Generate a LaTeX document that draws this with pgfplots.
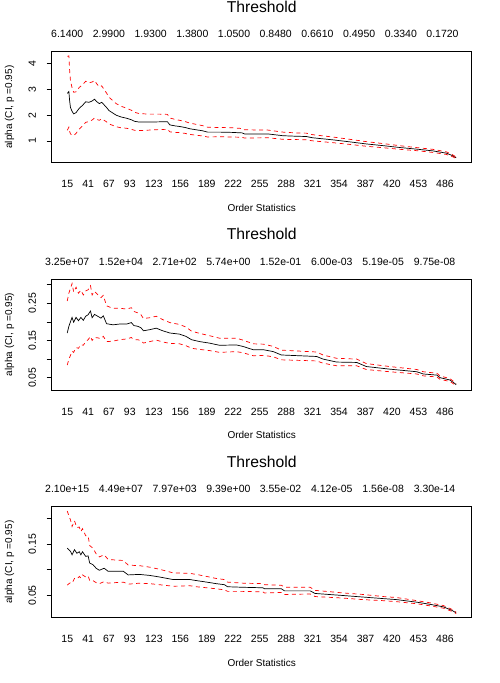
\documentclass[border=0pt]{standalone}
\usepackage{fontspec}
\setmainfont{Liberation Sans}
\usepackage{pgfplots}
\usepackage{pgfplotstable}
\pgfplotsset{compat=1.18}

\pgfplotstableread{
k v u l
15 2.85 4.29 1.41
16 2.88 4.29 1.47
17 2.92 4.31 1.53
18 2.55 3.73 1.37
19 2.30 3.34 1.27
21 2.15 3.07 1.23
23 2.05 2.89 1.21
26 2.10 2.91 1.29
30 2.27 3.08 1.46
34 2.38 3.18 1.58
38 2.52 3.32 1.72
42 2.50 3.26 1.75
46 2.55 3.29 1.81
49 2.62 3.35 1.89
52 2.52 3.21 1.83
55 2.45 3.10 1.80
58 2.50 3.14 1.86
61 2.40 3.00 1.80
64 2.30 2.86 1.74
67 2.18 2.70 1.66
72 2.08 2.56 1.60
76 2.00 2.45 1.55
82 1.93 2.35 1.51
89 1.88 2.27 1.49
95 1.82 2.19 1.45
99 1.76 2.11 1.41
105 1.73 2.06 1.40
118 1.73 2.04 1.42
130 1.74 2.04 1.44
140 1.74 2.03 1.45
143 1.62 1.89 1.35
150 1.58 1.83 1.33
155 1.56 1.80 1.32
162 1.52 1.75 1.29
168 1.47 1.69 1.25
176 1.43 1.64 1.22
184 1.39 1.59 1.19
190 1.34 1.53 1.15
205 1.34 1.52 1.16
220 1.33 1.51 1.15
233 1.31 1.48 1.14
236 1.27 1.43 1.11
265 1.27 1.42 1.12
284 1.20 1.34 1.06
300 1.18 1.31 1.05
313 1.17 1.30 1.04
321 1.12 1.24 1.00
346 1.04 1.15 0.93
365 0.97 1.07 0.87
388 0.88 0.97 0.79
410 0.81 0.89 0.73
430 0.74 0.81 0.67
450 0.68 0.74 0.62
471 0.61 0.67 0.55
488 0.52 0.57 0.47
495 0.43 0.47 0.39
500 0.34 0.37 0.31
}\hillA

\pgfplotstableread{
k v u l
15 0.170 0.256 0.084
17 0.188 0.277 0.099
19 0.200 0.290 0.110
21 0.212 0.303 0.121
23 0.199 0.280 0.118
26 0.212 0.293 0.131
29 0.203 0.277 0.129
32 0.212 0.285 0.139
35 0.204 0.272 0.137
38 0.215 0.283 0.147
41 0.219 0.286 0.152
44 0.229 0.297 0.161
46 0.211 0.272 0.150
49 0.220 0.282 0.158
53 0.215 0.273 0.157
57 0.210 0.265 0.155
60 0.216 0.271 0.161
64 0.195 0.243 0.147
72 0.192 0.236 0.148
80 0.194 0.237 0.152
89 0.194 0.234 0.154
95 0.198 0.238 0.158
98 0.190 0.228 0.152
103 0.188 0.224 0.152
107 0.184 0.219 0.149
110 0.176 0.209 0.143
118 0.179 0.211 0.147
126 0.183 0.215 0.151
134 0.176 0.206 0.146
143 0.170 0.198 0.142
155 0.167 0.193 0.141
163 0.161 0.186 0.136
170 0.152 0.175 0.129
180 0.147 0.169 0.126
192 0.143 0.163 0.123
205 0.137 0.156 0.118
226 0.138 0.156 0.120
234 0.134 0.151 0.117
247 0.125 0.141 0.109
260 0.125 0.140 0.110
272 0.120 0.134 0.106
282 0.111 0.124 0.098
326 0.107 0.119 0.095
334 0.100 0.111 0.089
351 0.092 0.102 0.082
376 0.091 0.100 0.082
388 0.080 0.088 0.072
417 0.073 0.080 0.066
451 0.066 0.072 0.060
459 0.060 0.066 0.055
476 0.057 0.062 0.052
480 0.050 0.0545 0.0455
492 0.044 0.0479 0.0401
498 0.035 0.0381 0.0319
500 0.031 0.0337 0.0283
}\hillB

\pgfplotstableread{
k v u l
15 0.142 0.214 0.070
17 0.139 0.205 0.073
19 0.136 0.197 0.075
21 0.129 0.184 0.074
24 0.139 0.195 0.083
27 0.132 0.182 0.082
30 0.135 0.183 0.087
32 0.129 0.174 0.084
34 0.135 0.180 0.090
38 0.126 0.166 0.086
41 0.127 0.166 0.088
43 0.113 0.147 0.079
47 0.110 0.142 0.079
51 0.103 0.131 0.075
55 0.099 0.125 0.073
61 0.103 0.129 0.077
66 0.097 0.120 0.074
75 0.097 0.119 0.075
85 0.097 0.118 0.076
91 0.090 0.109 0.072
105 0.091 0.108 0.074
118 0.089 0.105 0.073
130 0.086 0.101 0.071
147 0.081 0.094 0.068
168 0.081 0.093 0.069
176 0.079 0.091 0.067
189 0.076 0.087 0.065
201 0.073 0.083 0.063
211 0.071 0.081 0.061
215 0.067 0.076 0.058
234 0.066 0.074 0.058
259 0.065 0.073 0.057
261 0.063 0.071 0.055
282 0.063 0.070 0.056
286 0.059 0.066 0.052
318 0.059 0.066 0.053
324 0.054 0.060 0.048
359 0.050 0.055 0.045
384 0.047 0.052 0.042
409 0.044 0.048 0.040
426 0.042 0.046 0.038
451 0.037 0.040 0.034
467 0.033 0.036 0.030
484 0.028 0.0305 0.0255
495 0.021 0.0229 0.0191
500 0.0163 0.0177 0.0149
}\hillC

\newcommand{\tickfont}{\fontsize{10.5}{12}\selectfont}
\newcommand{\labfont}{\fontsize{10}{12}\selectfont}
\newcommand{\titfont}{\fontsize{15.7}{18}\selectfont}

\pgfplotsset{
  hillbase/.style={
    scale only axis, width=420pt, height=111pt,
    xmin=-4.4, xmax=519.4,
    axis line style={line width=0.8pt, black},
    xtick={15,41,67,93,123,156,189,222,255,288,321,354,387,420,453,486},
    xticklabels={15,41,67,93,123,156,189,222,255,288,321,354,387,420,453,486},
    xtick style={draw=none},
    ytick pos=left, tick align=outside, major tick length=5pt,
    ytick style={line width=0.6pt, black},
    xticklabel style={anchor=center, font=\tickfont},
    xticklabel shift=16.5pt,
    yticklabel style={rotate=90, anchor=center, font=\tickfont},
    yticklabel shift=14.4pt,
    xlabel={Order Statistics},
    xlabel style={at={(axis description cs:0.5,-0.405)}, anchor=center, font=\labfont},
    ylabel={alpha (CI, p =0.95)},
    ylabel style={at={(axis description cs:-0.1005,0.5)}, anchor=center, font=\labfont},
    title={Threshold},
    title style={at={(axis description cs:0.5,1.351)}, anchor=center, font=\titfont},
  },
  topbase/.style={
    scale only axis, width=420pt, height=111pt,
    xmin=-4.4, xmax=519.4,
    axis x line*=top, hide y axis,
    axis line style={draw=none},
    xtick style={draw=none},
    xticklabel pos=upper,
    xticklabel style={anchor=center, font=\tickfont},
    xticklabel shift=17.5pt,
  },
  est/.style={black, line width=0.7pt},
  ci/.style={red, line width=0.7pt, dash pattern=on 4pt off 3.5pt},
}

\begin{document}
\begin{tikzpicture}
\useasboundingbox (0,0) rectangle (499pt,683pt);

% Panel 1
\begin{axis}[hillbase, at={(51.7pt,631.3pt)}, anchor=north west,
  ymin=0.15, ymax=4.47, ytick={1,2,3,4}, yticklabels={1,2,3,4}]
  \addplot[est] table[x=k, y=v] {\hillA};
  \addplot[ci] table[x=k, y=u] {\hillA};
  \addplot[ci] table[x=k, y=l] {\hillA};
\end{axis}
\begin{axis}[topbase, at={(51.7pt,631.3pt)}, anchor=north west, ymin=0.15, ymax=4.47,
  xtick={15,67,119,171,223,275,327,379,431,483},
  xticklabels={6.1400,2.9900,1.9300,1.3800,1.0500,0.8480,0.6610,0.4950,0.3340,0.1720}]
  \addplot[draw=none] coordinates {(15,1)};
\end{axis}

% Panel 2
\begin{axis}[hillbase, at={(51.7pt,404pt)}, anchor=north west,
  ymin=0.017, ymax=0.315, ytick={0.05,0.10,0.15,0.20,0.25,0.30},
  yticklabels={{0.05},{},{0.15},{},{0.25},{}}]
  \addplot[est] table[x=k, y=v] {\hillB};
  \addplot[ci] table[x=k, y=u] {\hillB};
  \addplot[ci] table[x=k, y=l] {\hillB};
\end{axis}
\begin{axis}[topbase, at={(51.7pt,404pt)}, anchor=north west, ymin=0.017, ymax=0.315,
  xtick={15,82,149,216,281,345,409,473},
  xticklabels={3.25e+07,1.52e+04,2.71e+02,5.74e+00,1.52e-01,6.00e-03,5.19e-05,9.75e-08}]
  \addplot[draw=none] coordinates {(15,0.1)};
\end{axis}

% Panel 3
\begin{axis}[hillbase, at={(51.7pt,176.3pt)}, anchor=north west,
  ymin=0.0069, ymax=0.2225, ytick={0.05,0.10,0.15,0.20},
  yticklabels={{0.05},{},{0.15},{}}]
  \addplot[est] table[x=k, y=v] {\hillC};
  \addplot[ci] table[x=k, y=u] {\hillC};
  \addplot[ci] table[x=k, y=l] {\hillC};
\end{axis}
\begin{axis}[topbase, at={(51.7pt,176.3pt)}, anchor=north west, ymin=0.0069, ymax=0.2225,
  xtick={15,82,149,216,281,345,409,473},
  xticklabels={2.10e+15,4.49e+07,7.97e+03,9.39e+00,3.55e-02,4.12e-05,1.56e-08,3.30e-14}]
  \addplot[draw=none] coordinates {(15,0.1)};
\end{axis}
\end{tikzpicture}
\end{document}
